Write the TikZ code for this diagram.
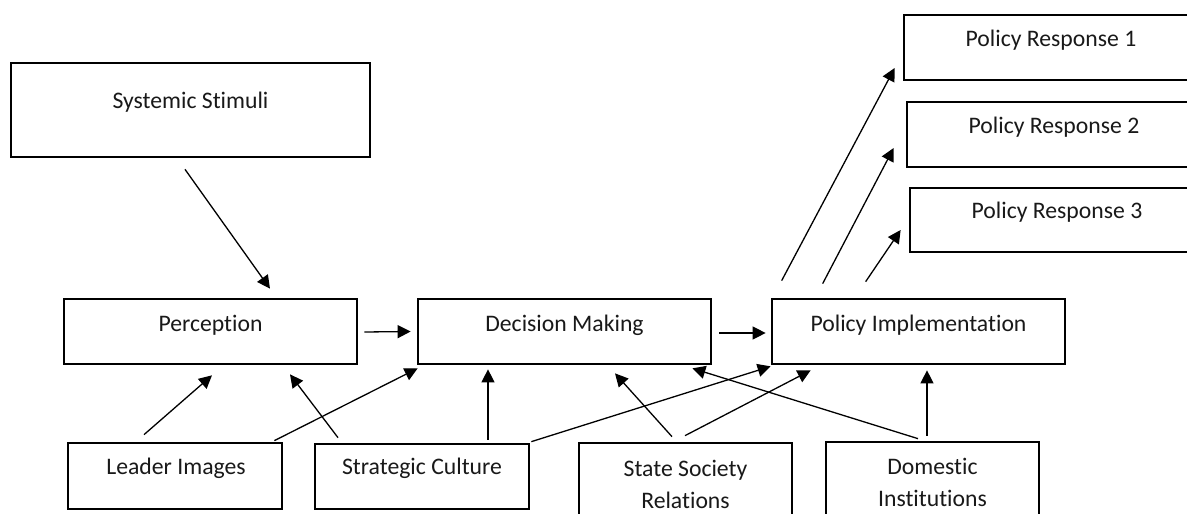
\documentclass[tikz,border=0pt]{standalone}
\usepackage{fontspec}
\setmainfont[Ligatures={NoCommon}]{Carlito}
\usetikzlibrary{arrows.meta}
\begin{document}
\begin{tikzpicture}[x=1pt,y=-1pt,
  box/.style={draw=black, line width=2.7pt, rectangle, inner sep=0pt},
  bigbox/.style={box, minimum width=293pt, minimum height=65pt},
  smallbox/.style={box, minimum width=214pt, minimum height=66pt},
  lbl/.style={inner sep=0pt, text=black!90, font=\fontsize{23.7}{32}\selectfont, align=center},
  arr/.style={line width=1.3pt, -{Triangle[length=13pt,width=13pt]}}]
\clip (0,0) rectangle (1187,514);
\fill[white] (0,0) rectangle (1187,514);
% boxes
\node[box, minimum width=359pt, minimum height=94pt] (sys) at (190.5,110) {};
\node[box, minimum width=294pt, minimum height=65pt] (pr1) at (1051,47.5) {};
\node[box, minimum width=294pt, minimum height=65pt] (pr2) at (1054,134.5) {};
\node[box, minimum width=294pt, minimum height=64pt] (pr3) at (1057,220) {};
\node[bigbox] (perc) at (210.5,331.5) {};
\node[bigbox] (dm) at (564.5,331.5) {};
\node[bigbox] (pi) at (918.5,331.5) {};
\node[smallbox] (li) at (175,476) {};
\node[smallbox, minimum height=65pt] (sc) at (422,476.5) {};
\node[box, minimum width=213pt, minimum height=80pt] (ssr) at (685.5,483) {};
\node[box, minimum width=213pt, minimum height=80pt] (di) at (932.5,482) {};
% labels
\node[lbl] (syst) at (190.5,102) {Systemic Stimuli};
\node[lbl] (pr1t) at (1051,40) {Policy Response 1};
\node[lbl] (pr2t) at (1054,127) {Policy Response 2};
\node[lbl] (pr3t) at (1057,212) {Policy Response 3};
\node[lbl] (perct) at (210.5,325) {Perception};
\node[lbl] (dmt) at (564.5,325) {Decision Making};
\node[lbl] (pit) at (918.5,325) {Policy Implementation};
\node[lbl] (lit) at (176,468) {Leader Images};
\node[lbl] (sct) at (422,468) {Strategic Culture};
\node[lbl] (ssrt) at (685.5,484) {State Society\\Relations};
\node[lbl] (dit) at (932.5,482) {Domestic\\Institutions};
% arrows
\draw[arr] ([shift={(-5.5,11)}]sys.south) -- ([shift={(59.5,-9)}]perc.north);
\draw[arr] ([shift={(6,0.5)}]perc.east) -- ([shift={(-6,0)}]dm.west);
\draw[arr] ([shift={(7,1.5)}]dm.east) -- ([shift={(-5,1.5)}]pi.west);
\draw[arr] ([shift={(-31,-7)}]li.north) -- ([shift={(1.5,10)}]perc.south);
\draw[arr] ([shift={(-84,-5)}]sc.north) -- ([shift={(79.5,9)}]perc.south);
\draw[arr] ([shift={(-9,-1)}]li.north east) -- ([shift={(1,3)}]dm.south west);
\draw[arr] ([shift={(66,-3)}]sc.north) -- ([shift={(-76.5,4)}]dm.south);
\draw[arr] ([shift={(1,-1)}]sc.north east) -- ([shift={(0,1)}]pi.south west);
\draw[arr] ([shift={(-13.5,-5)}]ssr.north) -- ([shift={(50.5,8)}]dm.south);
\draw[arr] ([shift={(-0.5,-6)}]ssr.north) -- ([shift={(40,5)}]pi.south west);
\draw[arr] ([shift={(-14.5,-2)}]di.north) -- ([shift={(-20,3)}]dm.south east);
\draw[arr] ([shift={(-5.5,-5)}]di.north) -- ([shift={(8.5,5)}]pi.south);
\draw[arr] ([shift={(11,-17)}]pi.north west) -- ([shift={(-8,20.5)}]pr1.west);
\draw[arr] ([shift={(52,-14)}]pi.north west) -- ([shift={(-12,13.5)}]pr2.west);
\draw[arr] ([shift={(95,-16)}]pi.north west) -- ([shift={(-8,10)}]pr3.west);
\end{tikzpicture}
\end{document}
